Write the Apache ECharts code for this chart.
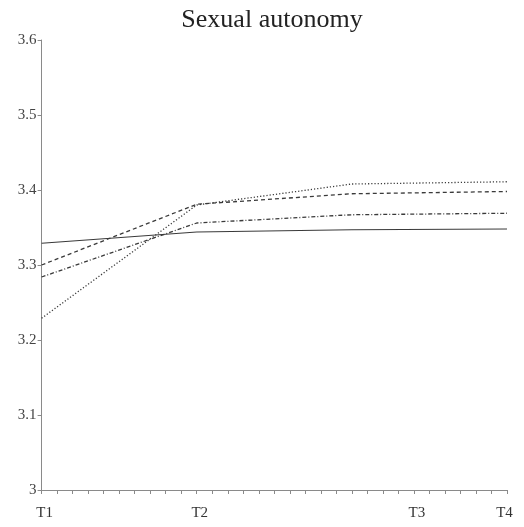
<!DOCTYPE html>
<html>
<head>
<meta charset="utf-8">
<script src="https://cdn.jsdelivr.net/npm/echarts@6/dist/echarts.min.js"></script>
<style>html,body{margin:0;padding:0;background:#fff}#c{width:524px;height:527px}</style>
</head>
<body>
<div id="c"></div>
<script>
const xValues = [0, 10, 20, 30];
const tickLabels = {0: 'T1', 10: 'T2', 24: 'T3', 30: 'T4'};
const seriesSolid = [3.329, 3.344, 3.347, 3.348];
const seriesDashed = [3.300, 3.381, 3.395, 3.398];
const seriesDashDot = [3.284, 3.356, 3.367, 3.369];
const seriesDotted = [3.229, 3.380, 3.408, 3.411];

const pair = arr => xValues.map((x, i) => [x, arr[i]]);
const font = '"Liberation Serif", "DejaVu Serif", serif';
const lineColor = '#3a3a3a';

function mk(name, data, type, width) {
  return {
    name, type: 'line', data: pair(data), showSymbol: false, symbol: 'none',
    lineStyle: {color: lineColor, width: width, type: type},
    animation: false
  };
}

const chart = echarts.init(document.getElementById('c'), null, {renderer: 'canvas'});
chart.setOption({
  animation: false,
  title: {
    text: 'Sexual autonomy', left: 267, top: 2, textAlign: 'center',
    textStyle: {fontFamily: font, fontSize: 26, fontWeight: 'normal', color: '#222'}
  },
  grid: {left: 41.6, right: 17, top: 40, bottom: 37, containLabel: false},
  xAxis: {
    type: 'value', min: 0, max: 30, interval: 1,
    axisLine: {lineStyle: {color: '#8a8a8a', width: 1}},
    axisTick: {show: true, length: 4, inside: false, lineStyle: {color: '#8a8a8a'}},
    splitLine: {show: false},
    axisLabel: {
      margin: 16, fontFamily: font, fontSize: 15, color: '#333',
      showMinLabel: true, showMaxLabel: true,
      formatter: v => {
        const t = tickLabels[Math.round(v)];
        if (!t) return '';
        return Math.round(v) === 30 ? '{b|' + t + '}' : '{a|' + t + '}';
      },
      rich: {
        a: {fontFamily: font, fontSize: 15, color: '#333', padding: [0, 0, 0, 6]},
        b: {fontFamily: font, fontSize: 15, color: '#333', padding: [0, 5, 0, 0]}
      }
    }
  },
  yAxis: {
    type: 'value', min: 3, max: 3.6, interval: 0.1,
    axisLine: {show: true, lineStyle: {color: '#8a8a8a', width: 1}},
    axisTick: {show: true, length: 4, lineStyle: {color: '#8a8a8a'}},
    splitLine: {show: false},
    axisLabel: {
      margin: 5, fontFamily: font, fontSize: 15, color: '#444',
      formatter: v => String(Math.round(v * 10) / 10)
    }
  },
  series: [
    mk('solid', seriesSolid, 'solid', 1.2),
    mk('dashed', seriesDashed, [4, 3], 1.3),
    mk('dashdot', seriesDashDot, [4, 2, 1, 2], 1.3),
    mk('dotted', seriesDotted, [1.2, 2], 1.3)
  ]
});
</script>
</body>
</html>
